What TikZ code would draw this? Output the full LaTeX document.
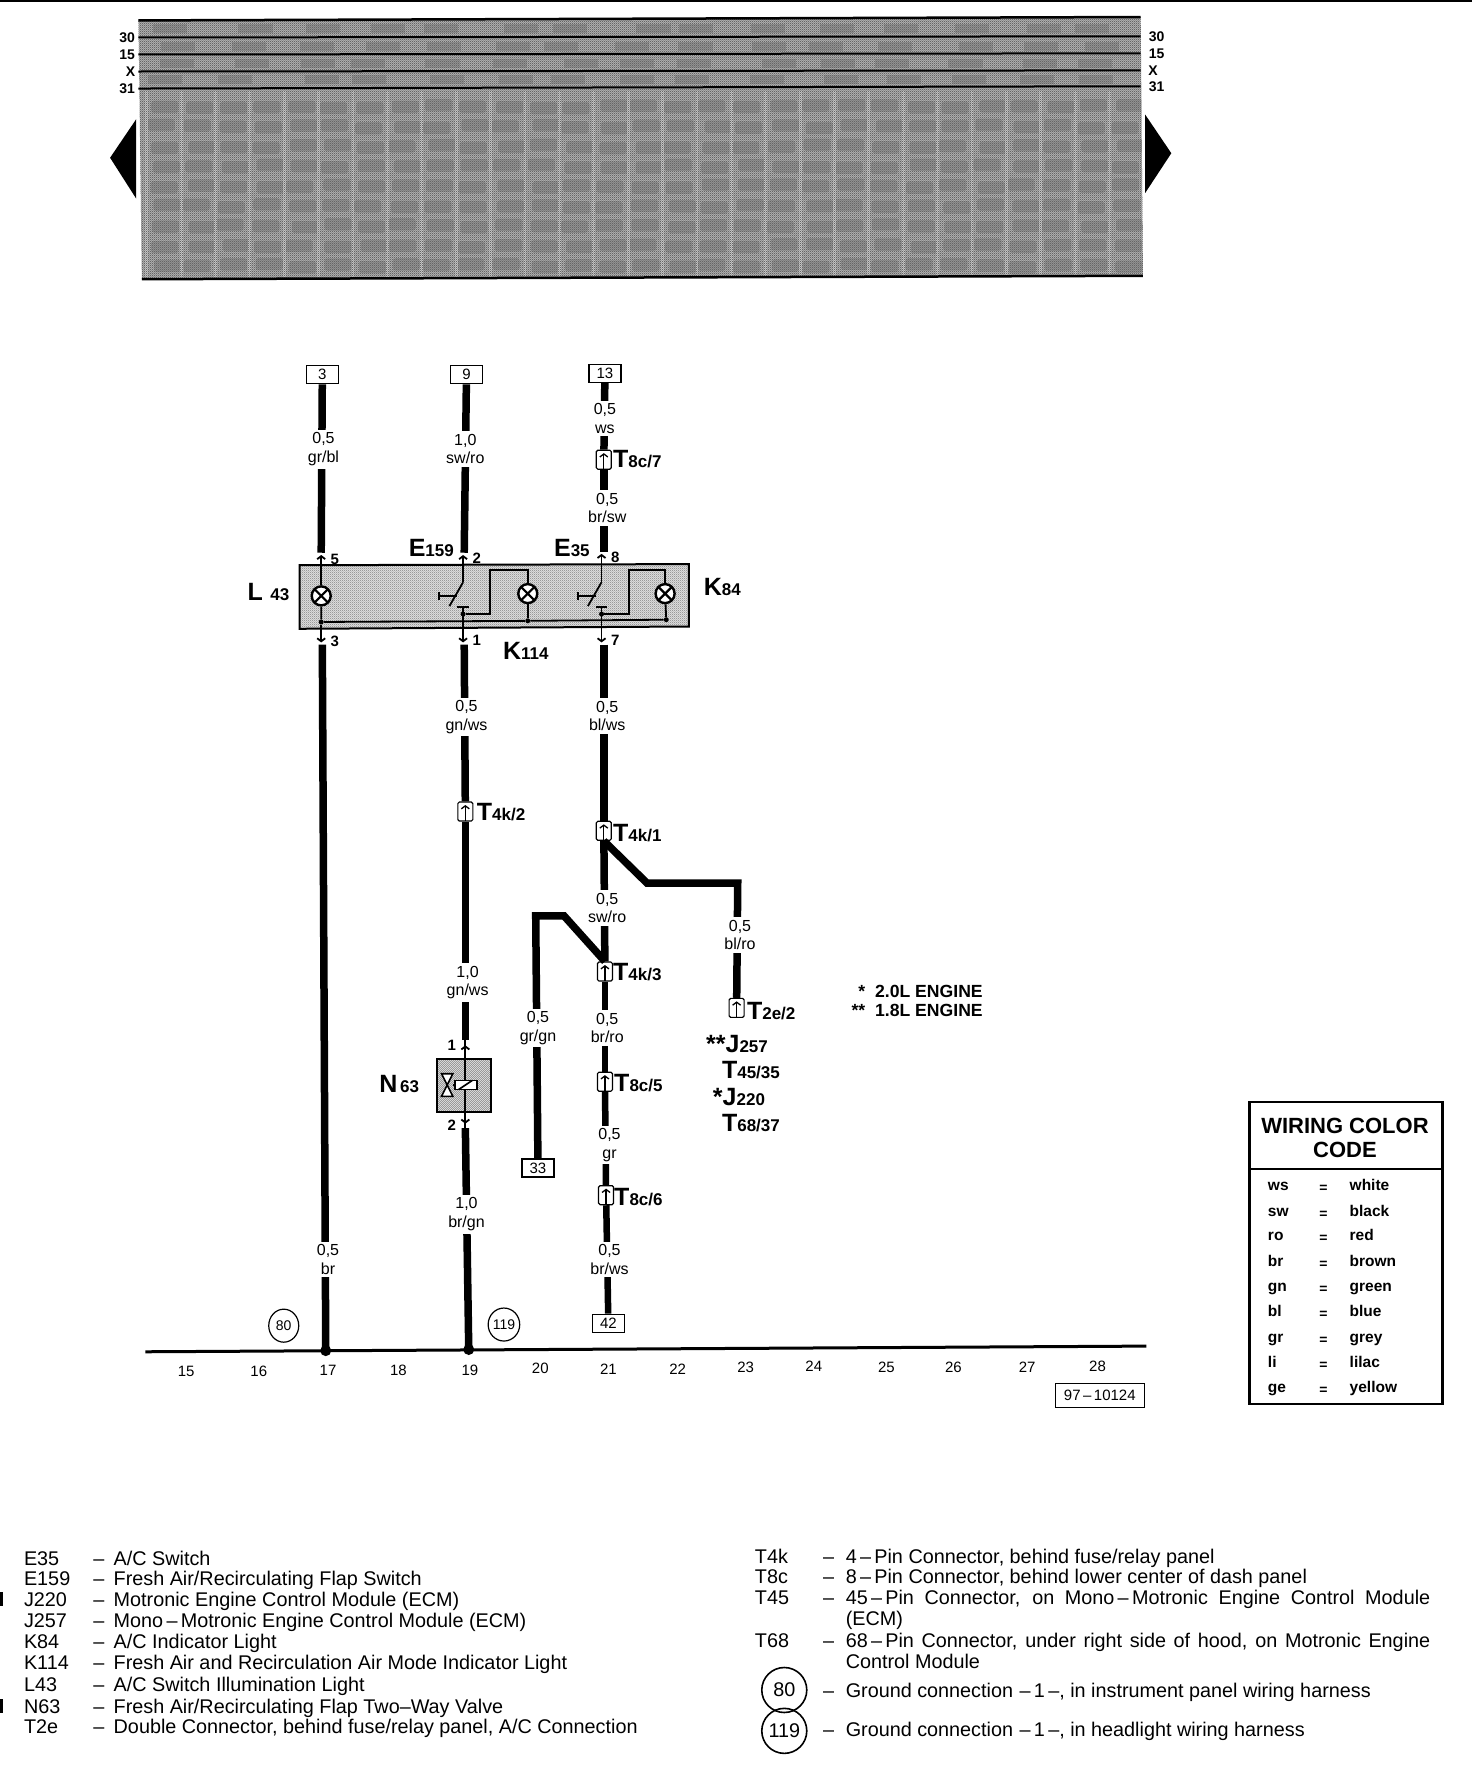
\documentclass[tikz,border=0pt]{standalone}
\usepackage{fontspec}
\setmainfont{Liberation Sans}
\usetikzlibrary{arrows.meta,patterns,shapes.geometric}
\pgfdeclarepatternformonly{dither}{\pgfpointorigin}{\pgfpoint{2.28pt}{2.28pt}}{\pgfpoint{2.28pt}{2.28pt}}{
 \pgfpathrectangle{\pgfpointorigin}{\pgfpoint{1.14pt}{1.14pt}}
 \pgfpathrectangle{\pgfpoint{1.14pt}{1.14pt}}{\pgfpoint{1.14pt}{1.14pt}}
 \pgfusepath{fill}}
\newcommand{\bigtag}[2]{{\fontsize{25}{25}\selectfont\bfseries #1}{\fontsize{17}{17}\selectfont\bfseries #2}}
\newcommand{\pd}{\,–\,}
\tikzset{
 wire/.style={line width=7.5pt},
 thinwire/.style={line width=1.8pt},
 pinup/.style={thinwire,-{Straight Barb[length=3pt,width=8pt]}},
 wlabel/.style={fill=white,inner xsep=1pt,inner ysep=3pt,yshift=-2pt,align=center,font=\fontsize{16}{18.3}\selectfont},
 tagnode/.style={anchor=mid west,inner sep=0pt,yshift=-4.5pt},
 pinnum/.style={inner sep=0pt,font=\fontsize{15}{15}\selectfont\bfseries},
 refbox/.style={draw,line width=1.5pt,fill=white,inner sep=0pt,minimum width=32pt,minimum height=18pt,font=\fontsize{15}{15}\selectfont},
 conn/.style={draw,line width=1.2pt,fill=white,rounded corners=1.5pt,inner sep=0pt,minimum width=15pt,minimum height=19pt,
  path picture={\draw[line width=1.3pt,-{Straight Barb[length=3pt,width=8pt]}] (path picture bounding box.south) -- ([yshift=-3pt]path picture bounding box.north);}},
 lamp/.style={circle,draw,line width=2.4pt,fill=white,inner sep=0pt,minimum size=19pt,
  path picture={\draw[line width=2.2pt] (path picture bounding box.south west) -- (path picture bounding box.north east) (path picture bounding box.north west) -- (path picture bounding box.south east);}},
 spot/.style={circle,fill,inner sep=0pt,minimum size=5pt},
 gnd/.style={circle,fill,inner sep=0pt,minimum size=11pt},
 gndref/.style={ellipse,draw,line width=1.2pt,inner sep=0pt,minimum width=30pt,minimum height=33pt,font=\fontsize{14}{14}\selectfont},
 legend/.style={anchor=mid west,inner sep=0pt,yshift=-4.5pt,font=\fontsize{19.8}{22}\selectfont},
 colrow/.style={anchor=mid west,inner sep=0pt,yshift=-3pt,font=\fontsize{15.5}{15.5}\selectfont\bfseries},
 busnum/.style={inner sep=0pt,font=\fontsize{14}{14}\selectfont\bfseries},
}
\begin{document}
\begin{tikzpicture}[x=1.135pt,y=-1.135pt]
 \useasboundingbox (0,0) rectangle (1297,1568.3);
 \draw[line width=2pt] (0,0.5) -- (1297,0.5);

 \fill[black!30] (122,18) -- (1005,15) -- (1007,243) -- (125,246) -- cycle;
 \begin{scope}
 \clip (122,18) -- (1005,15) -- (1007,243) -- (125,246) -- cycle;
 \pgfmathsetseed{97}
 \foreach \r in {0,...,8} {
  \foreach \c in {0,...,28} {
   \pgfmathsetmacro{\jx}{130+\c*30.3+rnd*6}
   \pgfmathsetmacro{\jy}{87+\r*17.5+rnd*3}
   \fill[black!42,rounded corners=3pt] (\jx,\jy) rectangle ++(24,11);
  }
 }
 \foreach \r/\yy in {0/21,1/37,2/52,3/66} {
  \foreach \c in {0,...,14} {
   \pgfmathsetmacro{\jx}{130+\c*58+rnd*25}
   \fill[black!42] (\jx,\yy) rectangle ++(30,8);
  }
 }
 \foreach \c in {0,...,28} {
  \fill[black!20] ({128+\c*30.3},80) rectangle ++(2.5,164);
 }
 \end{scope}
 \fill[pattern=dither,pattern color=black!60] (122,18) -- (1005,15) -- (1007,243) -- (125,246) -- cycle;
 \draw[line width=2.5pt] (122,18) -- (1005,15);
 \draw[line width=2.5pt] (125,246) -- (1007,243);
 \foreach \nm/\yl/\yr/\xl/\xr in {30/33/32/112/1019,15/48/47/112/1019,X/63/62/115/1016,31/78/76/112/1019} {
  \coordinate (bus\nm l) at (122,\yl);
  \coordinate (bus\nm r) at (1005,\yr);
  \draw[line width=2pt] (bus\nm l) -- (bus\nm r);
  \node[busnum] (lab\nm l) at (\xl,\yl) {\nm};
  \node[busnum] (lab\nm r) at (\xr,\yr) {\nm};
 }
 \fill (120,105) -- (120,175) -- (97,139) -- cycle;
 \fill (1009,101) -- (1009,170) -- (1032,135) -- cycle;

 \fill[black!12] (264,498) -- (607,497) -- (607,552) -- (264,554) -- cycle;
 \fill[pattern=dither,pattern color=black!40] (264,498) -- (607,497) -- (607,552) -- (264,554) -- cycle;
 \draw[line width=2pt] (264,498) -- (607,497) -- (607,552) -- (264,554) -- cycle;
 \fill[black!12] (385,933) rectangle (433,980);
 \fill[pattern=dither,pattern color=black!40] (385,933) rectangle (433,980);
 \draw[line width=2pt] (385,933) rectangle (433,980);

 \node[refbox] (box3) at (284,330) {3};
 \node[refbox] (box9) at (411,330) {9};
 \node[refbox] (box13) at (533,329) {13};
 \node[refbox] (box33) at (474,1029) {33};
 \node[refbox] (box42) at (536,1166) {42};
 \node[conn] (t8c7) at (532,405) {};
 \node[conn] (t4k2) at (410,715) {};
 \node[conn] (t4k1) at (532,732) {};
 \node[conn] (t4k3) at (533,856) {};
 \node[conn] (t2e2) at (649,888) {};
 \node[conn] (t8c5) at (533,953) {};
 \node[conn] (t8c6) at (534,1053) {};

 \coordinate (top5) at (283,487);
 \coordinate (top2) at (409,487);
 \coordinate (top8) at (532,486);
 \coordinate (pin5) at (283,489);
 \coordinate (pin2) at (408,489);
 \coordinate (pin8) at (530,488);
 \coordinate (low3) at (284,568);
 \coordinate (low1) at (409,568);
 \coordinate (low7) at (532,568);
 \coordinate (pin3) at (283,566);
 \coordinate (pin1) at (408,566);
 \coordinate (pin7) at (530,566);
 \coordinate (gnd17) at (287,1190);
 \coordinate (gnd19) at (413,1189);
 \coordinate (n1) at (410,921);
 \coordinate (n2) at (410,990);
 \coordinate (ntop) at (410,916);
 \coordinate (nlow) at (410,994);
 \coordinate (kneeb) at (570,778);
 \coordinate (kneec) at (650,778);
 \coordinate (kneed) at (497,807);
 \coordinate (kneee) at (472,807);

 \draw[wire] (box3) -- (top5);
 \draw[wire] (box9) -- (top2);
 \draw[wire] (box13) -- (t8c7);
 \draw[wire] (t8c7) -- (top8);
 \draw[wire] (low3) -- (gnd17);
 \draw[wire] (low1) -- (t4k2);
 \draw[wire] (t4k2) -- (ntop);
 \draw[wire] (nlow) -- (gnd19);
 \draw[wire] (low7) -- (t4k1);
 \draw[wire] (t4k1) -- (t4k3);
 \draw[wire,line width=6.5pt] (t4k3) -- (t8c5);
 \draw[wire,line width=6.5pt] (t8c5) -- (t8c6);
 \draw[wire,line width=6.5pt] (t8c6) -- (box42);
 \draw[wire] (t4k1.south) -- (kneeb) -- (kneec) -- (t2e2);
 \draw[wire] (t4k3.north) -- (kneed) -- (kneee) -- (box33);

 \foreach \x/\y/\t in {285/394/{0,5\\gr/bl},410/394/{1,0\\sw/ro},533/367/{0,5\\ws},535/446/{0,5\\br/sw},
  289/1108/{0,5\\br},411/630/{0,5\\gn/ws},412/864/{1,0\\gn/ws},411/1068/{1,0\\br/gn},
  535/629/{0,5\\bl/ws},535/798/{0,5\\sw/ro},535/904/{0,5\\br/ro},537/1007/{0,5\\gr},537/1108/{0,5\\br/ws},
  652/822/{0,5\\bl/ro},474/904/{0,5\\gr/gn}} {
  \node[wlabel] (w\x-\y) at (\x,\y) {\t};
 }

 \node[lamp] (l43) at (283,525) {};
 \node[lamp] (k114) at (465,523) {};
 \node[lamp] (k84) at (586,523) {};
 \node[spot] (busa) at (283,548) {};
 \node[spot] (busb) at (465,547) {};
 \node[spot] (busc) at (587,546) {};
 \node[spot] (swa) at (408,541) {};
 \node[spot] (swb) at (530,541) {};
 \coordinate (arma) at (408,513);
 \coordinate (armb) at (530,513);
 \coordinate (barma) at (408,535);
 \coordinate (barmb) at (530,535);
 \coordinate (loopa) at (432,541);
 \coordinate (loopb) at (432,502);
 \coordinate (loopc) at (465,502);
 \coordinate (loopd) at (554,541);
 \coordinate (loope) at (554,502);
 \coordinate (loopf) at (586,502);

 \draw[pinup] (l43) -- (pin5);
 \draw[pinup] (arma) -- (pin2);
 \draw[pinup] (armb) -- (pin8);
 \draw[pinup] (busa) -- (pin3);
 \draw[pinup] (barma) -- (pin1);
 \draw[pinup] (barmb) -- (pin7);
 \draw[thinwire] (l43) -- (busa) -- (busb) -- (busc) -- (k84);
 \draw[thinwire] (busb) -- (k114);
 \draw[thinwire] (swa) -- (loopa) -- (loopb) -- (loopc) -- (k114);
 \draw[thinwire] (swb) -- (loopd) -- (loope) -- (loopf) -- (k84);
 \draw[thinwire] (arma) -- (396,534);
 \draw[thinwire] (armb) -- (518,534);
 \draw[thinwire] (403,535) -- (413,535);
 \draw[thinwire] (525,535) -- (535,535);
 \draw[thinwire] (387,522) -- (387,529) (387,525) -- (403,525);
 \draw[thinwire] (509,522) -- (509,529) (509,525) -- (525,525);

 \draw[pinup] (nlow) -- (n1);
 \draw[thinwire,-{Straight Barb[length=3pt,width=8pt]}] (ntop) -- (n2);
 \draw[line width=1.6pt,fill=white] (389,946) -- (399,946) -- (389,966) -- (399,966) -- cycle;
 \draw[line width=1.6pt] (399,956) -- (402,956);
 \draw[line width=1.6pt,fill=white] (401,952) rectangle (420,960);
 \draw[line width=1.6pt] (404,960) -- (416,952);

 \foreach \nm/\x/\y/\a/\b in {te159/360/484/E/159,te35/488/484/E/35,tl43/218/523/L/{\;\,43},tk84/620/518/K/84,tk114/443/575/K/114,tn63/334/956/N/{\,63},
  tt8c7/540/406/T/8c\slash 7,tt4k2/420/717/T/4k\slash 2,tt4k1/540/735/T/4k\slash 1,tt4k3/540/858/T/4k\slash 3,tt2e2/658/892/T/2e\slash 2,
  tt8c5/541/955/T/8c\slash 5,tt8c6/541/1056/T/8c\slash 6,tj257/622/921/{**J}/257,tt45/636/944/T/45\slash 35,tj220/628/968/{*J}/220,tt68/636/991/T/68\slash 37} {
  \node[tagnode] (\nm) at (\x,\y) {\bigtag{\a}{\b}};
 }
 \foreach \nm/\x/\y in {5/295/493,3/295/565,2/420/492,1/420/564,8/542/491,7/542/564} {
  \node[pinnum] (num\nm) at (\x,\y) {\nm};
 }
 \node[pinnum] (numa) at (398,921) {1};
 \node[pinnum] (numb) at (398,991) {2};

 \node[inner sep=0pt,anchor=mid east,yshift=-4pt,font=\fontsize{17.6}{17.6}\selectfont\bfseries] (enga) at (866,873) {*\ \ 2.0L ENGINE};
 \node[inner sep=0pt,anchor=mid east,yshift=-4pt,font=\fontsize{17.6}{17.6}\selectfont\bfseries] (engb) at (866,890) {**\ \ 1.8L ENGINE};

 \coordinate (axisa) at (128,1191);
 \coordinate (axisb) at (1010,1186);
 \draw[line width=3pt] (axisa) -- (axisb);
 \node[gnd] (dot17) at (gnd17) {};
 \node[gnd] (dot19) at (gnd19) {};
 \node[gndref] (g80) at (250,1168) {80};
 \node[gndref] (g119) at (444,1167) {119};
 \foreach \n/\x/\y in {15/164/1208,16/228/1208,17/289/1207,18/351/1207,19/414/1207,20/476/1206,21/536/1206,22/597/1206,23/657/1205,24/717/1204,25/781/1205,26/840/1205,27/905/1205,28/967/1204} {
  \node[inner sep=0pt,font=\fontsize{15}{15}\selectfont] (col\n) at (\x,\y) {\n};
 }
 \node[draw,line width=1.5pt,inner sep=0pt,minimum width=89pt,minimum height=24pt,font=\fontsize{15}{15}\selectfont] (docno) at (969,1229.5) {97\pd 10124};

 \draw[line width=2.4pt] (1101,971) rectangle (1271,1237);
 \draw[line width=2pt] (1101,1030) -- (1271,1030);
 \node[inner sep=0pt,font=\fontsize{22}{24}\selectfont\bfseries,align=center] (coltitle) at (1185,1003) {WIRING COLOR\\CODE};
 \foreach \a/\b/\y in {ws/white/1044,sw/black/1067,ro/red/1088,br/brown/1111,gn/green/1133,bl/blue/1155,gr/grey/1178,li/lilac/1200,ge/yellow/1222} {
  \node[colrow] (c\a) at (1117,\y) {\a};
  \node[colrow,anchor=center,yshift=-1pt,font=\fontsize{14}{14}\selectfont\bfseries] (e\a) at (1166,\y) {=};
  \node[colrow] (n\a) at (1189,\y) {\b};
 }

 \fill (0,1403) rectangle (3,1415);
 \fill (0,1497) rectangle (3,1509);
 \foreach \nm/\y/\t in {E35/1373/{A/C Switch},E159/1391/{Fresh Air/Recirculating Flap Switch},J220/1409/{Motronic Engine Control Module (ECM)},
  J257/1428/{Mono\pd Motronic Engine Control Module (ECM)},K84/1446/{A/C Indicator Light},K114/1465/{Fresh Air and Recirculation Air Mode Indicator Light},
  L43/1484/{A/C Switch Illumination Light},N63/1503/{Fresh Air/Recirculating Flap Two–Way Valve},T2e/1521/{Double Connector, behind fuse/relay panel, A/C Connection}} {
  \node[legend] (code\nm) at (21,\y) {\nm};
  \node[legend] (dash\nm) at (82,\y) {–};
  \node[legend] (text\nm) at (100,\y) {\t};
 }
 \foreach \nm/\y/\t in {T4k/1371/{4\pd Pin Connector, behind fuse/relay panel},T8c/1389/{8\pd Pin Connector, behind lower center of dash panel},
  T45/1407/{\makebox[584.5pt][s]{45\pd Pin Connector, on Mono\pd Motronic Engine Control Module}},T68/1445/{\makebox[584.5pt][s]{68\pd Pin Connector, under right side of hood, on Motronic Engine}}} {
  \node[legend] (code\nm) at (665,\y) {\nm};
  \node[legend] (dash\nm) at (725,\y) {–};
  \node[legend] (text\nm) at (745,\y) {\t};
 }
 \node[legend] (textT45b) at (745,1426) {(ECM)};
 \node[legend] (textT68b) at (745,1464) {Control Module};
 \node[circle,draw,line width=1.6pt,inner sep=0pt,minimum size=45pt,font=\fontsize{19.8}{22}\selectfont] (g80b) at (691,1489) {80};
 \node[circle,draw,line width=1.6pt,inner sep=0pt,minimum size=45pt,font=\fontsize{19.8}{22}\selectfont] (g119b) at (691,1525) {119};
 \node[legend] (dash80) at (725,1489) {–};
 \node[legend] (text80) at (745,1489) {Ground connection\,\,–\,1\,–, in instrument panel wiring harness};
 \node[legend] (dash119) at (725,1524) {–};
 \node[legend] (text119) at (745,1524) {Ground connection\,\,–\,1\,–, in headlight wiring harness};
\end{tikzpicture}
\end{document}
